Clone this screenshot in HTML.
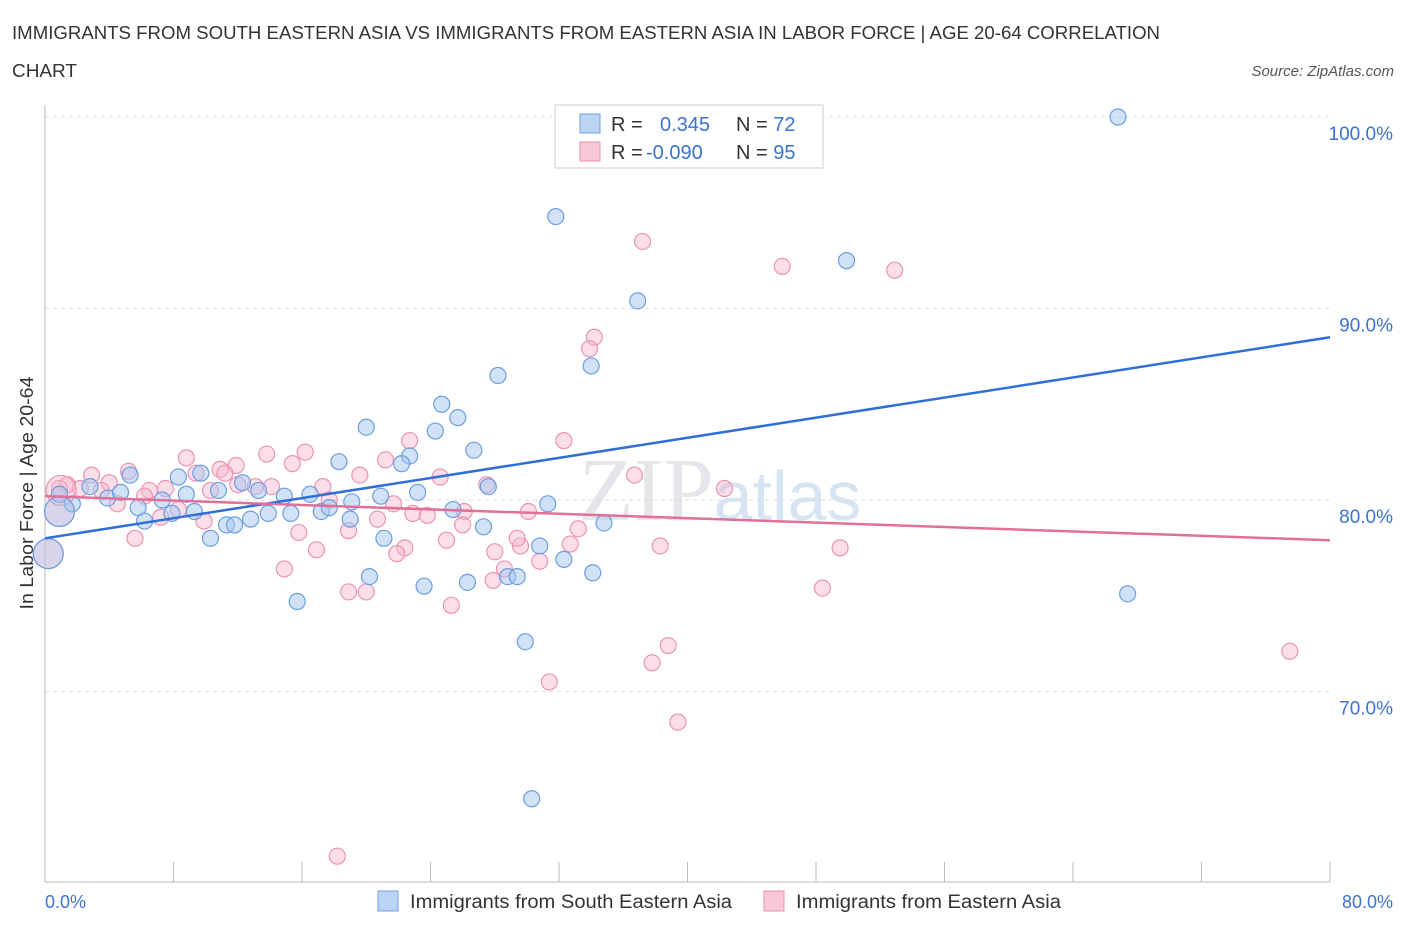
<!DOCTYPE html>
<html><head><meta charset="utf-8"><style>
body{margin:0;background:#fff;font-family:"Liberation Sans",sans-serif;}
svg{display:block}
</style></head><body>
<svg id="c" width="1406" height="930">
<text x="12" y="39" font-size="18" fill="#333" textLength="1148" lengthAdjust="spacingAndGlyphs">IMMIGRANTS FROM SOUTH EASTERN ASIA VS IMMIGRANTS FROM EASTERN ASIA IN LABOR FORCE | AGE 20-64 CORRELATION</text>
<text x="12" y="77" font-size="18" fill="#333" textLength="65" lengthAdjust="spacingAndGlyphs">CHART</text>
<text x="1394" y="76" font-size="15" fill="#555" font-style="italic" text-anchor="end">Source: ZipAtlas.com</text>
<text x="720" y="520" font-size="90" fill="#e6e6ea" text-anchor="middle" font-family="Liberation Serif,serif">ZIP<tspan fill="#d6e4f4" font-family="Liberation Sans,sans-serif" font-size="70">atlas</tspan></text>
<g id="grid"></g><g id="axes"></g><g id="pts"></g><g id="trend"></g>
<text x="33" y="493" font-size="18" fill="#333" text-anchor="middle" textLength="233" lengthAdjust="spacingAndGlyphs" transform="rotate(-90 33 493)">In Labor Force | Age 20-64</text>
<text x="45" y="908" font-size="18" fill="#3a73d0">0.0%</text>
<text x="1393" y="908" font-size="18" fill="#3a73d0" text-anchor="end">80.0%</text>
<g>
<rect x="555" y="105" width="268" height="63" fill="#fff" stroke="#ccc"/>
<rect x="580" y="114" width="20" height="19" fill="#bcd4f4" stroke="#6fa0e0"/>
<rect x="580" y="142" width="20" height="19" fill="#f8c8d8" stroke="#e890b0"/>
<text x="611" y="131" font-size="20" fill="#333">R = <tspan x="660" fill="#3a73d0">0.345</tspan><tspan x="736">N = </tspan><tspan fill="#3a73d0">72</tspan></text>
<text x="611" y="159" font-size="20" fill="#333">R = <tspan x="646" fill="#3a73d0">-0.090</tspan><tspan x="736">N = </tspan><tspan fill="#3a73d0">95</tspan></text>
</g>
<g>
<rect x="378" y="891" width="20" height="20" fill="#bcd4f4" stroke="#6fa0e0"/>
<text x="410" y="908" font-size="19" fill="#333" textLength="322" lengthAdjust="spacingAndGlyphs">Immigrants from South Eastern Asia</text>
<rect x="764" y="891" width="20" height="20" fill="#f8c8d8" stroke="#e890b0"/>
<text x="796" y="908" font-size="19" fill="#333" textLength="265" lengthAdjust="spacingAndGlyphs">Immigrants from Eastern Asia</text>
</g>
</svg>
<script>
const blueX=[66.8,31.8,49.9,36.9,34.0,28.2,24.7,25.7,20.0,24.3,26.7,22.7,18.3,22.2,8.3,5.3,9.7,12.3,27.6,0.9,1.7,2.8,3.9,4.7,5.8,7.3,8.8,9.3,10.8,13.3,14.9,16.5,19.1,20.9,23.2,25.4,31.3,34.8,6.2,7.9,11.3,11.8,12.8,13.9,15.3,17.2,17.7,19.0,21.1,27.3,30.8,10.3,32.3,20.2,23.6,26.3,28.8,29.4,34.1,15.7,29.9,30.3,67.4,43.1];
const blueY=[100.0,94.8,92.5,90.4,87.0,86.5,85.0,84.3,83.8,83.6,82.6,82.3,82.0,81.9,81.2,81.3,81.4,80.9,80.7,80.3,79.8,80.7,80.1,80.4,79.6,80.0,80.3,79.4,80.5,80.5,80.2,80.3,79.9,80.2,80.4,79.5,79.8,78.8,78.9,79.3,78.7,78.7,79.0,79.3,79.3,79.4,79.6,79.0,78.0,78.6,77.6,78.0,76.9,76.0,75.5,75.7,76.0,76.0,76.2,74.7,72.6,64.4,75.1,100.0];
const blueBigX=[0.2,0.9];
const blueBigY=[77.2,79.4];
const pinkX=[37.2,45.9,52.9,34.2,33.9,22.7,32.3,36.7,42.3,8.8,13.8,16.2,15.4,11.9,10.9,11.2,9.4,5.2,2.9,1.4,4.0,6.5,7.5,2.2,3.5,0.9,10.3,12.0,13.1,14.1,17.3,19.6,21.2,24.6,27.5,6.2,4.5,17.7,21.7,8.3,9.9,7.2,5.6,15.8,18.9,20.7,22.9,23.8,26.1,26.0,30.1,28.0,29.6,29.4,32.7,33.2,38.3,49.5,16.9,22.4,25.0,21.9,30.8,14.9,28.6,18.9,20.0,27.9,25.3,48.4,38.8,37.8,77.5,31.4,39.4,18.2];
const pinkY=[93.5,92.2,92.0,88.5,87.9,83.1,83.1,81.3,80.6,82.2,82.4,82.5,81.9,81.8,81.6,81.4,81.4,81.5,81.3,80.8,80.9,80.5,80.6,80.6,80.5,80.6,80.5,80.8,80.7,80.7,80.7,81.3,82.1,81.2,80.8,80.2,79.8,80.0,79.8,79.5,78.9,79.1,78.0,78.3,78.4,79.0,79.3,79.2,79.4,78.7,79.4,77.3,77.6,78.0,77.7,78.5,77.6,77.5,77.4,77.5,77.9,77.2,76.8,76.4,76.4,75.2,75.2,75.8,74.5,75.4,72.4,71.5,72.1,70.5,68.4,61.4];
const pinkBigX=[0.2,0.9,1.0];
const pinkBigY=[77.2,79.4,80.5];
const blueTrend=[78.0,88.5];
const pinkTrend=[80.2,77.9];
const yTicks=[100,90,80,70];
const xTicks=[0,8,16,24,32,40,48,56,64,72,80];
const NS='http://www.w3.org/2000/svg';
const sx=v=>45+v*1285/80, sy=v=>117+(100-v)*19.15;
function mk(tag,attrs,parent){const e=document.createElementNS(NS,tag);for(const k in attrs)e.setAttribute(k,attrs[k]);document.getElementById(parent).appendChild(e);return e;}
yTicks.forEach(t=>{
 const l=mk('line',{x1:45,x2:1330,y1:sy(t),y2:sy(t),stroke:'#ddd','stroke-dasharray':'4 4'},'grid');
 
 
 const tx=mk('text',{x:1393,y:sy(t)+23,'font-size':19,fill:'#3a73d0','text-anchor':'end'},'grid');
 tx.textContent=t.toFixed(1)+'%';
 
 
});
const ax=mk('line',{x1:45,x2:1330,y1:882,y2:882,stroke:'#bbb'},'axes');


const ay=mk('line',{x1:45,x2:45,y1:105,y2:882,stroke:'#bbb'},'axes');


xTicks.forEach(t=>{
 const l=mk('line',{x1:sx(t),x2:sx(t),y1:862,y2:882,stroke:'#bbb'},'axes');
 
 
});
function dots(X,Y,r,fill,stroke,name){X.forEach((x,i)=>{
 const c=mk('circle',{cx:sx(x),cy:sy(Y[i]),r:r,fill:fill,stroke:stroke,'stroke-width':1.2},'pts');
 
 
});}
dots(pinkX,pinkY,8,'rgba(246,182,204,0.45)','#e994b4','pink-point');
dots(pinkBigX,pinkBigY,15,'rgba(246,182,204,0.45)','#e994b4','pink-point-large');
dots(blueX,blueY,8,'rgba(164,198,240,0.5)','#6c9ee0','blue-point');
dots(blueBigX,blueBigY,15,'rgba(164,198,240,0.4)','#6c9ee0','blue-point-large');
const bt=mk('line',{x1:sx(0),y1:sy(blueTrend[0]),x2:sx(80),y2:sy(blueTrend[1]),stroke:'#2f6fd6','stroke-width':2.5},'trend');


const pt=mk('line',{x1:sx(0),y1:sy(pinkTrend[0]),x2:sx(80),y2:sy(pinkTrend[1]),stroke:'#e0709a','stroke-width':2.5},'trend');


</script>
</body></html>
